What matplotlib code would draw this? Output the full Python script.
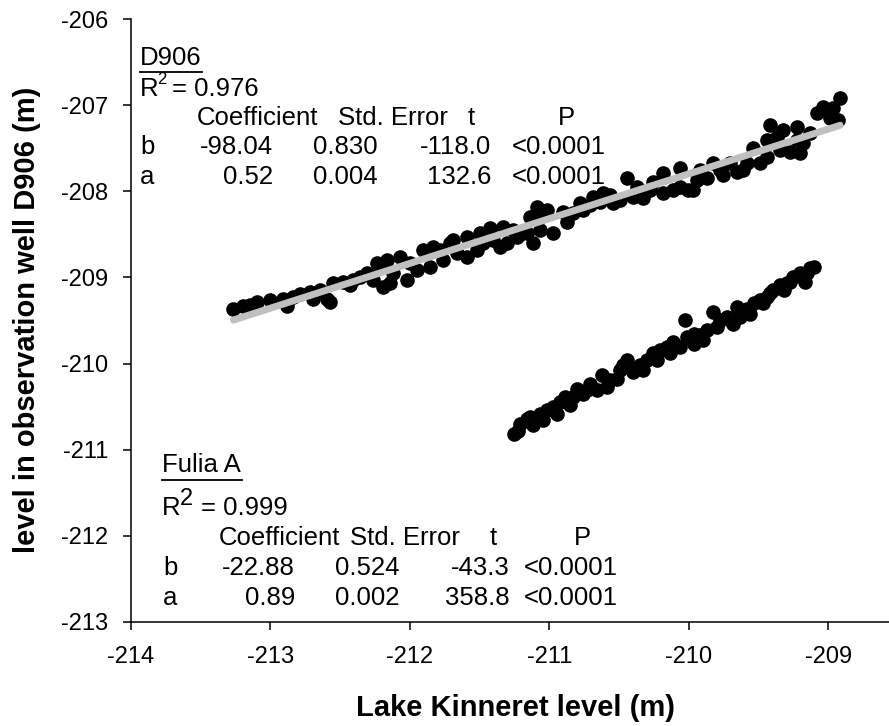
import numpy as np
import matplotlib
matplotlib.use("Agg")
import matplotlib.pyplot as plt
from matplotlib.lines import Line2D

plt.rcParams['font.family'] = ['Liberation Sans', 'DejaVu Sans']

W, H = 889, 726

# D906 observation well vs lake level
d906_x = [-213.264, -213.192, -213.145, -213.097, -213.001, -212.906, -212.882, -212.834,
          -212.786, -212.714, -212.691, -212.643, -212.595, -212.571, -212.547, -212.476,
          -212.428, -212.404, -212.356, -212.308, -212.260, -212.237, -212.213, -212.189,
          -212.165, -212.141, -212.117, -212.069, -212.022, -211.998, -211.950, -211.902,
          -211.854, -211.830, -211.783, -211.759, -211.711, -211.687, -211.663, -211.591,
          -211.591, -211.520, -211.472, -211.400, -211.353, -211.305, -211.233, -211.161,
          -211.114, -211.066,
          -211.496, -211.424, -211.329, -211.257, -211.209, -211.138, -211.090, -211.066,
          -211.018, -210.970, -210.899, -210.875, -210.827, -210.779, -210.755, -210.708,
          -210.684, -210.636, -210.612, -210.564, -210.540, -210.493, -210.445, -210.397,
          -210.373, -210.325, -210.277, -210.254, -210.182, -210.182, -210.110, -210.062,
          -210.062, -210.003, -209.967, -209.943, -209.919, -209.871, -209.823, -209.776,
          -209.752, -209.704, -209.656, -209.608, -209.584, -209.537, -209.489, -209.441,
          -209.441, -209.417, -209.370, -209.346, -209.322, -209.274, -209.226, -209.226,
          -209.202, -209.178, -209.131, -209.083, -209.035, -208.987, -208.963, -208.927,
          -208.915]
d906_y = [-209.361, -209.334, -209.322, -209.283, -209.264, -209.245, -209.334, -209.225,
          -209.187, -209.167, -209.245, -209.148, -209.245, -209.283, -209.070, -209.051,
          -209.090, -209.032, -208.993, -208.954, -209.032, -208.838, -208.877, -209.109,
          -208.799, -209.070, -208.954, -208.761, -209.032, -208.838, -208.916, -208.683,
          -208.877, -208.645, -208.683, -208.799, -208.606, -208.567, -208.722, -208.761,
          -208.528, -208.683, -208.606, -208.567, -208.645, -208.606, -208.528, -208.490,
          -208.606, -208.451,
          -208.490, -208.432, -208.412, -208.451, -208.497, -208.296, -208.180, -208.296,
          -208.219, -208.490, -208.238, -208.354, -208.257, -208.141, -208.219, -208.161,
          -208.064, -208.122, -208.025, -208.045, -208.141, -208.103, -207.851, -208.064,
          -207.947, -208.083, -207.986, -207.890, -207.793, -208.025, -207.986, -207.735,
          -207.947, -207.986, -207.986, -207.870, -207.754, -207.851, -207.677, -207.754,
          -207.812, -207.677, -207.773, -207.754, -207.677, -207.502, -207.677, -207.406,
          -207.599, -207.231, -207.367, -207.522, -207.290, -207.541, -207.251, -207.406,
          -207.560, -207.445, -207.328, -207.096, -207.018, -207.154, -207.038, -207.173,
          -206.922]

# Fulia A vs lake level
fulia_x = [-211.250, -211.225, -211.209, -211.161, -211.137, -211.113, -211.066, -211.042,
           -211.018, -210.970, -210.946, -210.922, -210.886, -210.851, -210.827, -210.803,
           -210.755, -210.731, -210.707, -210.659, -210.624, -210.588, -210.564, -210.516,
           -210.492, -210.468, -210.444, -210.397, -210.349, -210.325, -210.301, -210.253,
           -210.229, -210.205, -210.158, -210.134, -210.110, -210.062, -210.026, -210.014,
           -209.966, -209.966, -209.919, -209.895, -209.871, -209.823, -209.799, -209.775,
           -209.727, -209.704, -209.680, -209.656, -209.632, -209.584, -209.560, -209.536,
           -209.489, -209.465, -209.441, -209.417, -209.393, -209.345, -209.321, -209.297,
           -209.273, -209.250, -209.202, -209.166, -209.154, -209.130, -209.106]
fulia_y = [-210.820, -210.780, -210.696, -210.638, -210.619, -210.716, -210.580, -210.657,
           -210.541, -210.503, -210.580, -210.444, -210.386, -210.483, -210.386, -210.290,
           -210.348, -210.309, -210.232, -210.309, -210.135, -210.270, -210.193, -210.174,
           -210.077, -210.019, -209.961, -210.096, -210.019, -210.077, -209.961, -209.883,
           -209.961, -209.845, -209.806, -209.883, -209.748, -209.806, -209.496, -209.690,
           -209.767, -209.651, -209.670, -209.728, -209.612, -209.399, -209.573, -209.496,
           -209.457, -209.496, -209.535, -209.341, -209.457, -209.361, -209.419, -209.302,
           -209.264, -209.302, -209.225, -209.186, -209.148, -209.090, -209.148, -209.070,
           -209.051, -208.993, -208.954, -209.051, -208.954, -208.896, -208.877]

# regression tables
stat_cols = ['Coefficient', 'Std. Error', 't', 'P']
d906_r2 = '0.976'
d906_b = ['-98.04', '0.830', '-118.0', '<0.0001']
d906_a = ['0.52', '0.004', '132.6', '<0.0001']
fulia_r2 = '0.999'
fulia_b = ['-22.88', '0.524', '-43.3', '<0.0001']
fulia_a = ['0.89', '0.002', '358.8', '<0.0001']

x_ticks = [-214, -213, -212, -211, -210, -209]
y_ticks = [-213, -212, -211, -210, -209, -208, -207, -206]

FS = 18.5


def put(fig, x, y, s, ha='left', size=FS, **kw):
    # place text by pixel position measured from the top-left corner
    return fig.text(x / W, 1 - y / H, s, ha=ha, va='center', fontsize=size, **kw)


def underline(fig, x0, x1, y):
    fig.add_artist(Line2D([x0 / W, x1 / W], [1 - y / H, 1 - y / H],
                          transform=fig.transFigure, color='black', lw=1.3))


def fit_line(ax, x, y, color, lw, z):
    a, b = np.polyfit(x, y, 1)
    xs = np.array([min(x), max(x)])
    ax.plot(xs, a * xs + b, color=color, lw=lw, solid_capstyle='round', zorder=z)


def main():
    fig = plt.figure(figsize=(W / 100, H / 100), dpi=100)
    ax = fig.add_axes([130.7 / W, 104 / H, (W - 130.7) / W, 603 / H])

    ax.plot(fulia_x, fulia_y, 'o', color='black', ms=9.5, zorder=3)
    fit_line(ax, fulia_x, fulia_y, '#c0c0c0', 3.5, 2)
    ax.plot(d906_x, d906_y, 'o', color='black', ms=9.5, zorder=3)
    fit_line(ax, d906_x, d906_y, '#c0c0c0', 5, 4)

    ax.set_xlim(-214, -208.565)
    ax.set_ylim(-213, -206)
    ax.set_xticks(x_ticks)
    ax.set_yticks(y_ticks)
    ax.set_xticklabels([str(v) for v in x_ticks])
    ax.set_yticklabels([str(v) for v in y_ticks])
    for s in ['top', 'right']:
        ax.spines[s].set_visible(False)
    for s in ['left', 'bottom']:
        ax.spines[s].set_linewidth(1.1)
    ax.tick_params(direction='out', length=6, width=1.1, labelsize=17)
    ax.tick_params(axis='x', pad=11)
    ax.tick_params(axis='y', pad=10)

    fig.text(515 / W, 1 - 708 / H, 'Lake Kinneret level (m)', ha='center', va='center',
             fontsize=21, fontweight='bold')
    fig.text(27 / W, 1 - 320 / H, 'level in observation well D906 (m)', ha='center',
             va='center', rotation=90, fontsize=21, fontweight='bold')

    # D906 statistics block
    put(fig, 140, 58, 'D906')
    underline(fig, 140, 202, 71.5)
    put(fig, 140, 89, 'R')
    put(fig, 157, 80, '2', size=12)
    put(fig, 172, 89, '= ' + d906_r2)
    put(fig, 197, 118, stat_cols[0])
    put(fig, 338, 118, stat_cols[1])
    put(fig, 468, 118, stat_cols[2])
    put(fig, 566, 118, stat_cols[3], ha='center')
    for y, lab, row in [(147, 'b', d906_b), (177, 'a', d906_a)]:
        put(fig, 140, y, lab)
        put(fig, 273, y, row[0], ha='right')
        put(fig, 378, y, row[1], ha='right')
        put(fig, 491, y, row[2], ha='right')
        put(fig, 512, y, row[3])

    # Fulia A statistics block
    put(fig, 162, 465, 'Fulia A')
    underline(fig, 162, 242, 479.5)
    put(fig, 162, 508, 'R')
    put(fig, 180, 499, '2', size=17)
    put(fig, 201, 508, '= ' + fulia_r2)
    put(fig, 219, 538, stat_cols[0])
    put(fig, 350, 538, stat_cols[1])
    put(fig, 490, 538, stat_cols[2])
    put(fig, 582, 538, stat_cols[3], ha='center')
    for y, lab, row in [(568, 'b', fulia_b), (598, 'a', fulia_a)]:
        put(fig, 163, y, lab)
        put(fig, 295, y, row[0], ha='right')
        put(fig, 400, y, row[1], ha='right')
        put(fig, 510, y, row[2], ha='right')
        put(fig, 524, y, row[3])

    fig.savefig('out.png', dpi=100)


if __name__ == "__main__":
    main()
